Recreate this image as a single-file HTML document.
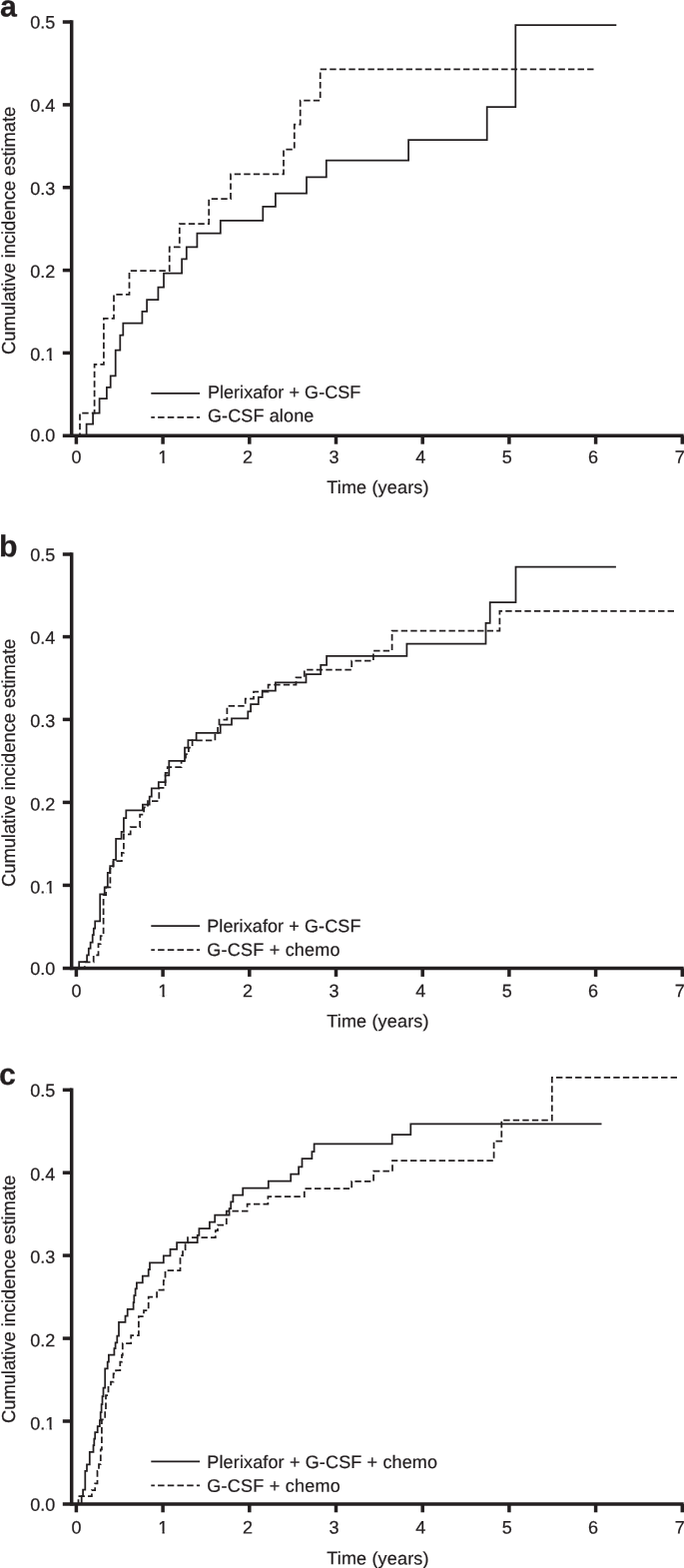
<!DOCTYPE html>
<html lang="en">
<head>
<meta charset="utf-8">
<title>Cumulative incidence estimate</title>
<style>
html,body{margin:0;padding:0;background:#fff;}
body{width:685px;height:1570px;overflow:hidden;}
svg{display:block;}
text{font-family:"Liberation Sans",sans-serif;fill:#231f20;stroke:#231f20;stroke-width:0.22px;text-rendering:geometricPrecision;}
.t{font-size:18.0px;}
.pl{font-size:30.3px;font-weight:bold;}
.ax{stroke:#231f20;stroke-width:3.5;fill:none;stroke-linecap:butt;}
.ln{stroke:#231f20;stroke-width:1.75;fill:none;stroke-linejoin:miter;}
.ds{stroke-dasharray:6.4 3.15;}
.dl{stroke-dasharray:6.5 3.2;}
</style>
</head>
<body>
<svg width="685" height="1570" viewBox="0 0 685 1570">
<g>
<text class="pl" x="0.1" y="16.5" transform="rotate(0.03 0.1 16.5)">a</text>
<path class="ax" d="M71.7,20.2 V438.1"/>
<path class="ax" d="M62.8,436.3 H684.7"/>
<path class="ax" d="M62.8,353.4 H71.7"/>
<path class="ax" d="M62.8,270.6 H71.7"/>
<path class="ax" d="M62.8,187.7 H71.7"/>
<path class="ax" d="M62.8,104.9 H71.7"/>
<path class="ax" d="M62.8,22.0 H71.7"/>
<path class="ax" d="M76.4,436.3 V444.7"/>
<path class="ax" d="M163.1,436.3 V444.7"/>
<path class="ax" d="M249.8,436.3 V444.7"/>
<path class="ax" d="M336.5,436.3 V444.7"/>
<path class="ax" d="M423.2,436.3 V444.7"/>
<path class="ax" d="M509.9,436.3 V444.7"/>
<path class="ax" d="M596.6,436.3 V444.7"/>
<path class="ax" d="M683.3,436.3 V444.7"/>
<text class="t" x="55.4" y="442.00" text-anchor="end" transform="rotate(0.03 55.4 442.00)">0.0</text>
<clipPath id="cya"><rect x="20" y="342.99" width="26.29" height="24"/><rect x="45.39" y="342.99" width="14" height="16.05"/><rect x="49.57" y="358.49" width="2.3" height="4"/></clipPath>
<text class="t" x="55.4" y="360.99" text-anchor="end" clip-path="url(#cya)" transform="rotate(0.03 55.4 360.99)">0.1</text>
<text class="t" x="55.4" y="277.98" text-anchor="end" transform="rotate(0.03 55.4 277.98)">0.2</text>
<text class="t" x="55.4" y="195.02" text-anchor="end" transform="rotate(0.03 55.4 195.02)">0.3</text>
<text class="t" x="55.4" y="111.86" text-anchor="end" transform="rotate(0.03 55.4 111.86)">0.4</text>
<text class="t" x="55.4" y="28.40" text-anchor="end" transform="rotate(0.03 55.4 28.40)">0.5</text>
<text class="t" x="76.6" y="463.80" text-anchor="middle" transform="rotate(0.03 76.6 463.80)">0</text>
<clipPath id="cxa"><rect x="157.30" y="445.80" width="14" height="16.05"/><rect x="162.48" y="461.30" width="2.3" height="4"/></clipPath>
<text class="t" x="163.3" y="463.80" text-anchor="middle" clip-path="url(#cxa)" transform="rotate(0.03 163.3 463.80)">1</text>
<text class="t" x="247.9" y="463.80" text-anchor="middle" transform="rotate(0.03 247.9 463.80)">2</text>
<text class="t" x="334.6" y="463.80" text-anchor="middle" transform="rotate(0.03 334.6 463.80)">3</text>
<text class="t" x="421.3" y="463.80" text-anchor="middle" transform="rotate(0.03 421.3 463.80)">4</text>
<text class="t" x="507.7" y="463.80" text-anchor="middle" transform="rotate(0.03 507.7 463.80)">5</text>
<text class="t" x="594.0" y="463.80" text-anchor="middle" transform="rotate(0.03 594.0 463.80)">6</text>
<text class="t" x="680.7" y="463.80" text-anchor="middle" transform="rotate(0.03 680.7 463.80)">7</text>
<text class="t" x="327.2" y="494.00" textLength="102.3" lengthAdjust="spacing" transform="rotate(0.03 378 494.00)">Time (years)</text>
<text class="t" transform="translate(14.5,355.0) rotate(-90) scale(1,1.02)" textLength="248.3" lengthAdjust="spacing" style="font-size:18.4px">Cumulative incidence estimate</text>
<path class="ln" d="M86.6,436.3 V424.6 H93.1 V413.5 H99.6 V399.2 H106.9 V387.9 H110.7 V376.4 H115.7 V350.7 H120.3 V335.7 H123.3 V323.6 H142.4 V311.8 H147.1 V300.1 H158.4 V287.5 H164 V273.5 H182.1 V259.4 H186.8 V247.3 H197.4 V233.5 H220.8 V220.8 H263.3 V206.8 H275.9 V193.5 H307 V177.4 H326.8 V160.7 H409.1 V140.1 H487.7 V107 H516.3 V25.1 H617.3"/>
<path class="ln ds" stroke-dashoffset="3.60" d="M80,436.3 V413.5 H94.6 V364.8 H103.9 V318.8 H114 V294.8 H129.5 V271 H169.7 V247.3 H179.8 V224 H209.2 V199.2 H231 V174.4 H284 V149.7 H294.8 V124.5 H300.7 V100.7 H320.7 V69.4 H594.5"/>
<path class="ln" d="M151.3,393.8 H200.1"/>
<path class="ln dl" stroke-dashoffset="2.9" d="M151.3,417.8 H200.1"/>
<text class="t" x="207.9" y="398.80" textLength="153.4" lengthAdjust="spacing" transform="rotate(0.03 284.6 398.80)">Plerixafor + G-CSF</text>
<text class="t" x="207.9" y="422.20" textLength="106.4" lengthAdjust="spacing" transform="rotate(0.03 261.1 422.20)">G-CSF alone</text>
</g>
<g>
<text class="pl" x="-1.0" y="557.2" transform="rotate(0.03 -1.0 557.2)">b</text>
<path class="ax" d="M71.7,553.2 V971.2"/>
<path class="ax" d="M62.8,969.5 H684.7"/>
<path class="ax" d="M62.8,886.4 H71.7"/>
<path class="ax" d="M62.8,803.4 H71.7"/>
<path class="ax" d="M62.8,720.4 H71.7"/>
<path class="ax" d="M62.8,637.6 H71.7"/>
<path class="ax" d="M62.8,555.0 H71.7"/>
<path class="ax" d="M76.4,969.5 V977.9"/>
<path class="ax" d="M163.1,969.5 V977.9"/>
<path class="ax" d="M249.8,969.5 V977.9"/>
<path class="ax" d="M336.5,969.5 V977.9"/>
<path class="ax" d="M423.2,969.5 V977.9"/>
<path class="ax" d="M509.9,969.5 V977.9"/>
<path class="ax" d="M596.6,969.5 V977.9"/>
<path class="ax" d="M683.3,969.5 V977.9"/>
<text class="t" x="55.4" y="976.00" text-anchor="end" transform="rotate(0.03 55.4 976.00)">0.0</text>
<clipPath id="cyb"><rect x="20" y="876.54" width="26.29" height="24"/><rect x="45.39" y="876.54" width="14" height="16.05"/><rect x="49.57" y="892.04" width="2.3" height="4"/></clipPath>
<text class="t" x="55.4" y="894.54" text-anchor="end" clip-path="url(#cyb)" transform="rotate(0.03 55.4 894.54)">0.1</text>
<text class="t" x="55.4" y="811.48" text-anchor="end" transform="rotate(0.03 55.4 811.48)">0.2</text>
<text class="t" x="55.4" y="728.12" text-anchor="end" transform="rotate(0.03 55.4 728.12)">0.3</text>
<text class="t" x="55.4" y="644.86" text-anchor="end" transform="rotate(0.03 55.4 644.86)">0.4</text>
<text class="t" x="55.4" y="561.80" text-anchor="end" transform="rotate(0.03 55.4 561.80)">0.5</text>
<text class="t" x="76.6" y="998.20" text-anchor="middle" transform="rotate(0.03 76.6 998.20)">0</text>
<clipPath id="cxb"><rect x="157.30" y="980.20" width="14" height="16.05"/><rect x="162.48" y="995.70" width="2.3" height="4"/></clipPath>
<text class="t" x="163.3" y="998.20" text-anchor="middle" clip-path="url(#cxb)" transform="rotate(0.03 163.3 998.20)">1</text>
<text class="t" x="247.9" y="998.20" text-anchor="middle" transform="rotate(0.03 247.9 998.20)">2</text>
<text class="t" x="334.6" y="998.20" text-anchor="middle" transform="rotate(0.03 334.6 998.20)">3</text>
<text class="t" x="421.3" y="998.20" text-anchor="middle" transform="rotate(0.03 421.3 998.20)">4</text>
<text class="t" x="507.7" y="998.20" text-anchor="middle" transform="rotate(0.03 507.7 998.20)">5</text>
<text class="t" x="594.0" y="998.20" text-anchor="middle" transform="rotate(0.03 594.0 998.20)">6</text>
<text class="t" x="680.7" y="998.20" text-anchor="middle" transform="rotate(0.03 680.7 998.20)">7</text>
<text class="t" x="327.2" y="1028.50" textLength="102.3" lengthAdjust="spacing" transform="rotate(0.03 378 1028.50)">Time (years)</text>
<text class="t" transform="translate(14.5,888.0) rotate(-90) scale(1,1.02)" textLength="248.3" lengthAdjust="spacing" style="font-size:18.4px">Cumulative incidence estimate</text>
<path class="ln" d="M79.2,969.5 V963.1 H87.1 V956.4 H88.8 V949.7 H90.6 V943.5 H92.7 V936.2 H93.8 V929.5 H95.2 V922.3 H100.2 V895.4 H104.7 V888.4 H107.8 V873.9 H110.2 V867.2 H113.5 V860.8 H116.1 V839.8 H121.6 V832.8 H123.9 V819 H126.3 V811.3 H142.9 V805.5 H149.7 V797.7 H151.8 V789.4 H158.8 V783 H165.6 V776.3 H169.3 V761.8 H185 V748.5 H188.4 V741.2 H196.6 V733.9 H220.7 V725.6 H232 V719.4 H248.3 V712.3 H251.1 V705 H258.8 V698 H262.7 V691.5 H275.9 V683.4 H306.5 V675 H321.2 V665.8 H327.1 V656.9 H407.4 V644.7 H486.5 V623.8 H490.7 V603.1 H516.5 V567.6 H616.9"/>
<path class="ln ds" stroke-dashoffset="4.05" d="M84.8,969.5 V963.3 H93.7 V956.4 H98.5 V945.1 H100.7 V937.1 H103.6 V896 H106.1 V888.4 H110.4 V869.7 H113.5 V862 H121.9 V853.8 H123.9 V835.3 H130.7 V828.2 H140.1 V815.5 H144.1 V808.4 H148 V802 H159.3 V788.9 H165.6 V773.8 H167.7 V768 H181.6 V762 H186 V755 H188.9 V748.5 H192.6 V741.3 H215.4 V733.9 H218.1 V726.4 H219.5 V720.7 H227.4 V706.8 H245.7 V699.6 H254 V692.6 H268.6 V685.5 H296.5 V678.3 H304.8 V670.7 H352.2 V661.7 H373.9 V651.7 H392.6 V631.5 H500.4 V611.9 H675"/>
<path class="ln" d="M151.3,927.0 H200.1"/>
<path class="ln dl" stroke-dashoffset="2.9" d="M151.3,951.0 H200.1"/>
<text class="t" x="207.2" y="933.30" textLength="154.2" lengthAdjust="spacing" transform="rotate(0.03 284.3 933.30)">Plerixafor + G-CSF</text>
<text class="t" x="207.2" y="957.10" textLength="133.4" lengthAdjust="spacing" transform="rotate(0.03 273.9 957.10)">G-CSF + chemo</text>
</g>
<g>
<text class="pl" x="-0.9" y="1086.1" transform="rotate(0.03 -0.9 1086.1)">c</text>
<path class="ax" d="M71.7,1089.5 V1507.6"/>
<path class="ax" d="M62.8,1505.9 H684.7"/>
<path class="ax" d="M62.8,1423.0 H71.7"/>
<path class="ax" d="M62.8,1340.1 H71.7"/>
<path class="ax" d="M62.8,1257.1 H71.7"/>
<path class="ax" d="M62.8,1174.2 H71.7"/>
<path class="ax" d="M62.8,1091.3 H71.7"/>
<path class="ax" d="M76.4,1505.9 V1514.3"/>
<path class="ax" d="M163.1,1505.9 V1514.3"/>
<path class="ax" d="M249.8,1505.9 V1514.3"/>
<path class="ax" d="M336.5,1505.9 V1514.3"/>
<path class="ax" d="M423.2,1505.9 V1514.3"/>
<path class="ax" d="M509.9,1505.9 V1514.3"/>
<path class="ax" d="M596.6,1505.9 V1514.3"/>
<path class="ax" d="M683.3,1505.9 V1514.3"/>
<text class="t" x="55.4" y="1512.70" text-anchor="end" transform="rotate(0.03 55.4 1512.70)">0.0</text>
<clipPath id="cyc"><rect x="20" y="1413.48" width="26.29" height="24"/><rect x="45.39" y="1413.48" width="14" height="16.05"/><rect x="49.57" y="1428.98" width="2.3" height="4"/></clipPath>
<text class="t" x="55.4" y="1431.48" text-anchor="end" clip-path="url(#cyc)" transform="rotate(0.03 55.4 1431.48)">0.1</text>
<text class="t" x="55.4" y="1348.16" text-anchor="end" transform="rotate(0.03 55.4 1348.16)">0.2</text>
<text class="t" x="55.4" y="1264.84" text-anchor="end" transform="rotate(0.03 55.4 1264.84)">0.3</text>
<text class="t" x="55.4" y="1181.92" text-anchor="end" transform="rotate(0.03 55.4 1181.92)">0.4</text>
<text class="t" x="55.4" y="1098.10" text-anchor="end" transform="rotate(0.03 55.4 1098.10)">0.5</text>
<text class="t" x="76.6" y="1535.40" text-anchor="middle" transform="rotate(0.03 76.6 1535.40)">0</text>
<clipPath id="cxc"><rect x="157.30" y="1517.40" width="14" height="16.05"/><rect x="162.48" y="1532.90" width="2.3" height="4"/></clipPath>
<text class="t" x="163.3" y="1535.40" text-anchor="middle" clip-path="url(#cxc)" transform="rotate(0.03 163.3 1535.40)">1</text>
<text class="t" x="247.9" y="1535.40" text-anchor="middle" transform="rotate(0.03 247.9 1535.40)">2</text>
<text class="t" x="334.6" y="1535.40" text-anchor="middle" transform="rotate(0.03 334.6 1535.40)">3</text>
<text class="t" x="421.3" y="1535.40" text-anchor="middle" transform="rotate(0.03 421.3 1535.40)">4</text>
<text class="t" x="507.7" y="1535.40" text-anchor="middle" transform="rotate(0.03 507.7 1535.40)">5</text>
<text class="t" x="594.0" y="1535.40" text-anchor="middle" transform="rotate(0.03 594.0 1535.40)">6</text>
<text class="t" x="680.7" y="1535.40" text-anchor="middle" transform="rotate(0.03 680.7 1535.40)">7</text>
<text class="t" x="327.2" y="1566.40" textLength="102.3" lengthAdjust="spacing" transform="rotate(0.03 378 1566.40)">Time (years)</text>
<text class="t" transform="translate(14.5,1425.0) rotate(-90) scale(1,1.02)" textLength="248.3" lengthAdjust="spacing" style="font-size:18.4px">Cumulative incidence estimate</text>
<path class="ln" d="M81.7,1506 V1498 H83.1 V1491.6 H85.3 V1472.8 H87.0 V1466.4 H89.8 V1453.8 H93.5 V1447 H94.3 V1440.5 H95.2 V1434.1 H97.7 V1428.1 H99.9 V1422 H100.7 V1414 H101.6 V1406 H102.5 V1398 H103.5 V1389.6 H105.2 V1370.3 H107.7 V1363.6 H108.9 V1356.5 H114.4 V1350 H115.6 V1344.3 H117.3 V1337.5 H119 V1323.9 H125.5 V1317.5 H127.7 V1310.8 H133.6 V1304 H134.3 V1297 H135.6 V1290.3 H136.9 V1284.4 H142.8 V1277.7 H148.7 V1271 H150 V1264.3 H163.8 V1257.4 H170.5 V1250.9 H177.1 V1244 H197.7 V1236.8 H199.4 V1230.2 H209.9 V1223.6 H215.2 V1216.6 H229.6 V1210 H231.2 V1203.3 H233.4 V1196.7 H243.2 V1189.7 H268.8 V1182.7 H291.2 V1175.5 H299.1 V1168.3 H302.5 V1160.2 H312.4 V1153 H314.6 V1145.3 H392.7 V1136.1 H411.3 V1125.4 H602.5"/>
<path class="ln ds" stroke-dashoffset="1.55" d="M78.5,1506 V1498 H91.9 V1492 H95.2 V1485.4 H97.5 V1472.8 H99 V1466.2 H100.8 V1451.3 H101.9 V1421.3 H105.2 V1412 H106 V1397 H108.5 V1388.8 H111 V1383.7 H113.6 V1375.3 H116.1 V1372 H120.3 V1363.6 H122 V1356.9 H122.8 V1345.1 H131.2 V1337 H138.9 V1318 H144 V1312.1 H148.7 V1298.7 H157.1 V1291.6 H163.8 V1282 H165.5 V1272 H180.5 V1257 H183 V1251 H185.6 V1244.4 H188 V1239 H215.8 V1232 H218 V1226.5 H226.8 V1212.7 H247.6 V1205.5 H268.4 V1198.2 H304.8 V1190.2 H352.2 V1182.8 H374.1 V1172.7 H393 V1162 H494.6 V1142.5 H502.3 V1121.5 H552.8 V1078.8 H678"/>
<path class="ln" d="M151.3,1463.4 H200.1"/>
<path class="ln dl" stroke-dashoffset="2.9" d="M151.3,1487.4 H200.1"/>
<text class="t" x="207.3" y="1469.95" textLength="230.7" lengthAdjust="spacing" transform="rotate(0.03 322.6 1469.95)">Plerixafor + G-CSF + chemo</text>
<text class="t" x="207.3" y="1493.70" textLength="133.4" lengthAdjust="spacing" transform="rotate(0.03 274.0 1493.70)">G-CSF + chemo</text>
</g>
</svg>
</body>
</html>
